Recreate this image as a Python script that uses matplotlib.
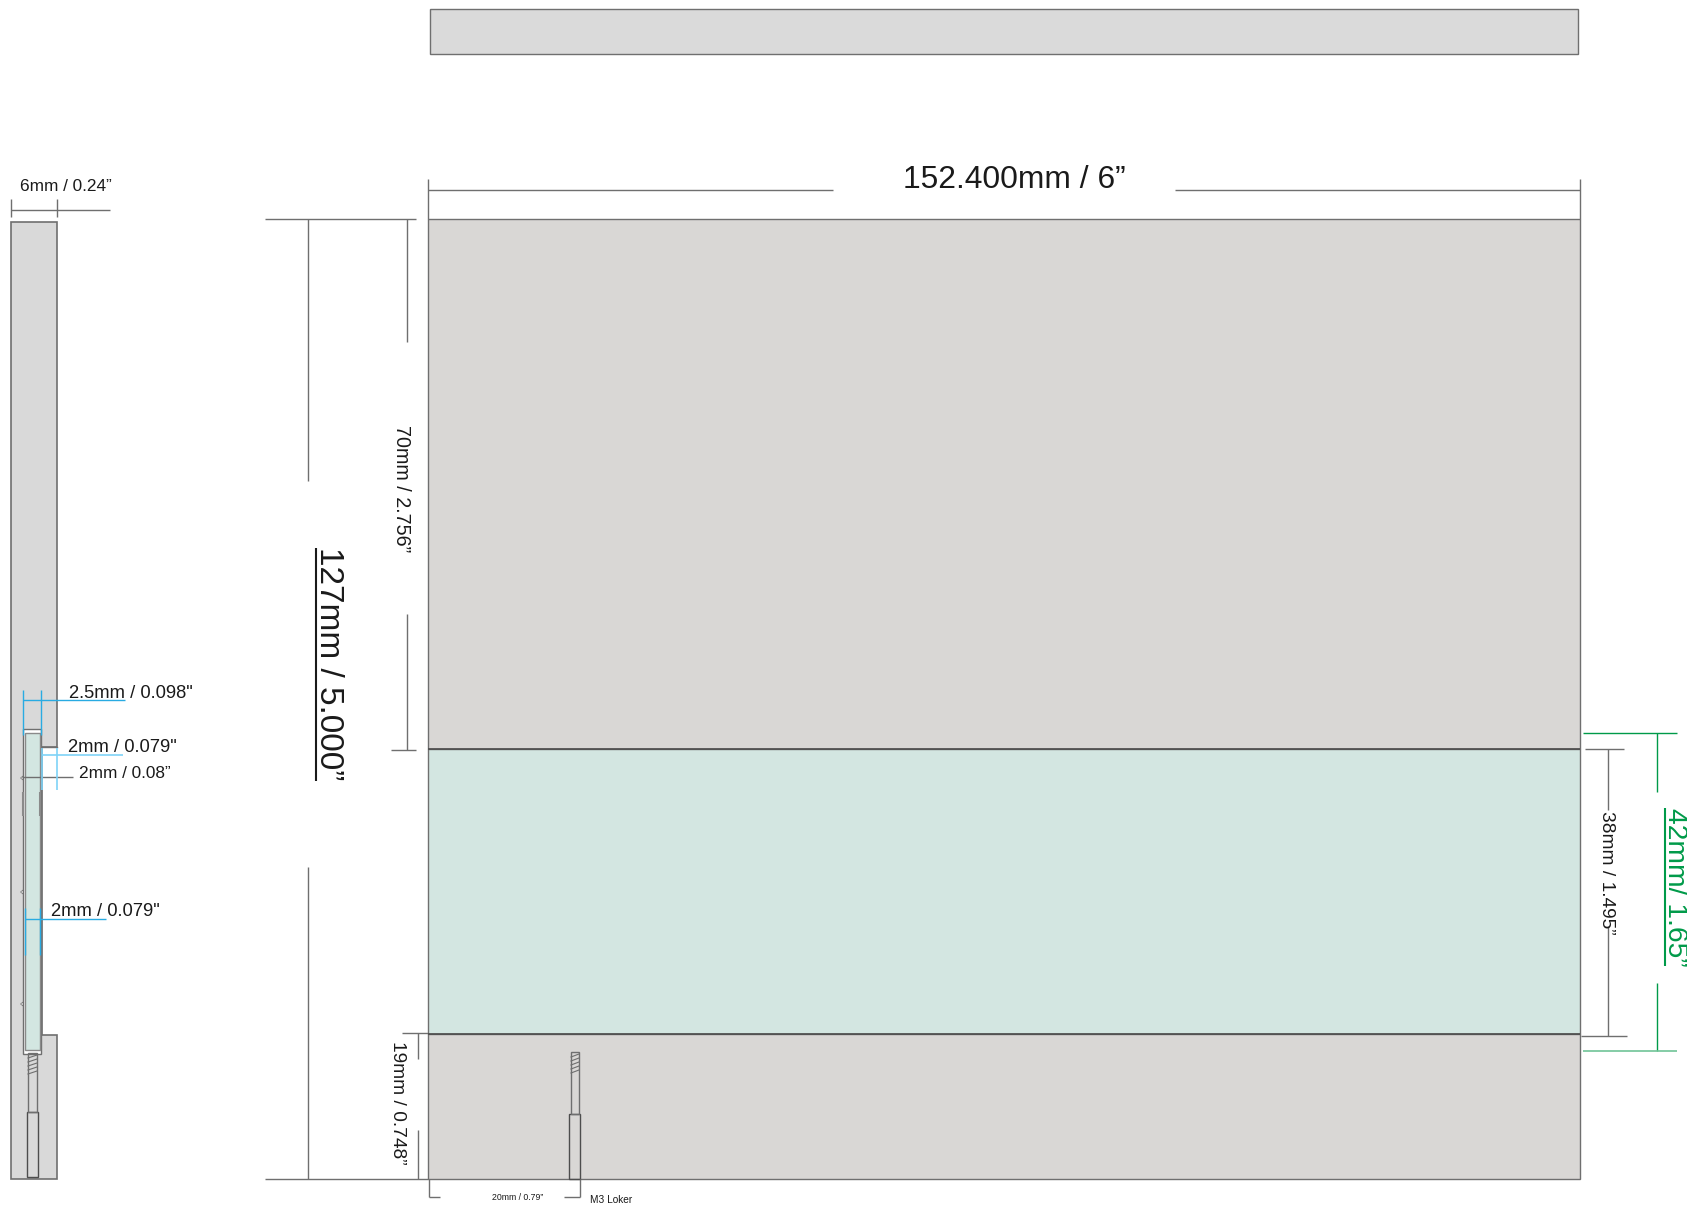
import matplotlib
matplotlib.use('Agg')
import matplotlib.pyplot as plt
from matplotlib.patches import Rectangle, Polygon

plt.rcParams['font.family'] = ['Liberation Sans', 'DejaVu Sans']

GREY = '#6f6f6f'
DARK = '#4d4d4d'
BLUE = '#29abe2'
LIGHTBLUE = '#7fd3f7'
GREEN = '#009a49'
LIGHTGREEN = '#6fc497'
INK = '#1a1a1a'

# all drawing values are reference pixels (x, y going down)
# x, y, width, height, fill
front_panels = [
    (430, 9, 1148, 45, '#dadada'),
    (428, 219, 1152, 530, '#d9d7d5'),
    (428, 749, 1152, 285, '#d3e6e1'),
    (428, 1034, 1152, 145, '#d9d7d5'),
]
side_profile = [(11.5, 222), (57, 222), (57, 747), (42, 747), (42, 1035), (57, 1035), (57, 1179), (11.5, 1179)]
side_slot = (23, 729, 18.5, 325, '#ffffff')
side_glass = (25, 733, 15, 317, '#d3e6e1')

# x1, y1, x2, y2
grey_lines = [
    (428, 179, 428, 219), (1580, 179, 1580, 219), (428, 190, 833, 190), (1175, 190, 1580, 190),
    (11.5, 199, 11.5, 217), (57, 199, 57, 217), (11.5, 210, 110, 210),
    (265, 219, 416, 219), (308.5, 219, 308.5, 481), (308.5, 867, 308.5, 1179), (265, 1179, 428, 1179),
    (407, 219, 407, 342), (407, 614, 407, 750), (391, 750, 416, 750),
    (402, 1033, 428, 1033), (418, 1033, 418, 1059), (418, 1130, 418, 1179),
    (429, 1179, 429, 1197), (429, 1197, 440, 1197), (580, 1179, 580, 1197), (564, 1197, 580, 1197),
    (1608, 749, 1608, 810), (1608, 927, 1608, 1036), (1585, 749, 1624, 749), (1581, 1036, 1627, 1036),
    (22, 777, 73, 777),
]
dark_lines = [(428, 749, 1580, 749), (428, 1034, 1580, 1034)]
slot_marks = [(23, 792, 23, 816), (40, 792, 40, 816)]
blue_lines = [
    (23, 690, 23, 735), (41.5, 690, 41.5, 735), (23, 700, 125, 700),
    (25, 908, 25, 955), (40, 908, 40, 955), (25, 919, 106, 919),
]
lightblue_lines = [(42, 748, 42, 790), (57, 748, 57, 790), (42, 755, 123, 755)]
green_lines = [
    (1583, 733, 1677, 733), (1657, 733, 1657, 792), (1657, 983, 1657, 1051),
]
lightgreen_lines = [(1583, 1051, 1677, 1051)]
underlines = [(316, 548, 316, 781, INK, 1.5), (1665, 808, 1665, 966, GREEN, 1.5)]

# x, y, width, height of bolt head, shaft top, shaft width
bolts = [
    (569.5, 1114, 11, 65, 1052, 8),
    (27, 1112, 11, 65, 1053, 9),
]
notch_y = [778, 892, 1004]

# text, x, y, size, rotation, colour, horizontal align
labels = [
    ('152.400mm / 6”', 1014, 179.5, 22.9, 0, INK, 'center'),
    ('6mm / 0.24”', 66, 186.5, 12.4, 0, INK, 'center'),
    ('127mm / 5.000”', 329, 664, 24, -90, INK, 'center'),
    ('70mm / 2.756”', 402, 488.5, 14.2, -90, INK, 'center'),
    ('19mm / 0.748”', 398, 1102.5, 13.8, -90, INK, 'center'),
    ('38mm / 1.495”', 1607, 873, 13.8, -90, INK, 'center'),
    ('42mm/ 1.65”', 1675, 887, 20.3, -90, GREEN, 'center'),
    ('2.5mm / 0.098"', 69, 693.5, 13.2, 0, INK, 'left'),
    ('2mm / 0.079"', 68, 747.5, 13.2, 0, INK, 'left'),
    ('2mm / 0.08”', 79, 774, 12.4, 0, INK, 'left'),
    ('2mm / 0.079"', 51, 912, 13.2, 0, INK, 'left'),
    ('20mm / 0.79”', 518, 1198, 6.35, 0, INK, 'center'),
    ('M3 Loker', 590, 1200, 7.3, 0, INK, 'left'),
]


def draw_segments(ax, segments, color, lw):
    for x1, y1, x2, y2 in segments:
        ax.plot([x1, x2], [y1, y2], color=color, lw=lw, solid_capstyle='butt', zorder=4)


def draw_bolt(ax, x, y, w, h, top, shaft_w):
    cx = x + w / 2
    sx = cx - shaft_w / 2
    ax.add_patch(Rectangle((x, y), w, h, fc='none', ec=DARK, lw=1, zorder=3))
    ax.add_patch(Rectangle((sx, top), shaft_w, y - top, fc='none', ec=GREY, lw=1, zorder=3))
    # thread
    for i in range(5):
        ty = top + 3 + i * 4
        ax.plot([sx, sx + shaft_w], [ty + 2, ty - 1], color=GREY, lw=0.8, zorder=3)


fig = plt.figure(figsize=(16.87, 12.06), dpi=100)
ax = fig.add_axes([0, 0, 1, 1])
ax.set_xlim(0, 1687)
ax.set_ylim(1206, 0)
ax.axis('off')

for x, y, w, h, c in front_panels:
    ax.add_patch(Rectangle((x, y), w, h, fc=c, ec=GREY, lw=1, zorder=2))

ax.add_patch(Polygon(side_profile, closed=True, fc='#d9d9d9', ec=GREY, lw=1.2, zorder=2))
x, y, w, h, c = side_slot
ax.add_patch(Rectangle((x, y), w, h, fc=c, ec=GREY, lw=1, zorder=2))
x, y, w, h, c = side_glass
ax.add_patch(Rectangle((x, y), w, h, fc=c, ec='#8a8a8a', lw=1, zorder=2))
ax.plot([42, 57], [747, 747], color=GREY, lw=1, zorder=3)

for ny in notch_y:
    ax.add_patch(Polygon([(23, ny - 2), (23, ny + 2), (20.5, ny)], closed=True, fc='white', ec=GREY, lw=0.5, zorder=3))

for b in bolts:
    draw_bolt(ax, *b)

draw_segments(ax, grey_lines, GREY, 1)
draw_segments(ax, dark_lines, DARK, 1.2)
draw_segments(ax, slot_marks, '#8a8a8a', 1.5)
draw_segments(ax, blue_lines, BLUE, 1)
draw_segments(ax, lightblue_lines, LIGHTBLUE, 1.2)
draw_segments(ax, green_lines, GREEN, 1)
draw_segments(ax, lightgreen_lines, LIGHTGREEN, 1.2)
for x1, y1, x2, y2, c, lw in underlines:
    ax.plot([x1, x2], [y1, y2], color=c, lw=lw, solid_capstyle='butt', zorder=4)

for txt, x, y, size, rot, c, ha in labels:
    ax.text(x, y, txt, fontsize=size, rotation=rot, color=c, ha=ha, va='center', zorder=5)

fig.savefig('out.png', dpi=100)
